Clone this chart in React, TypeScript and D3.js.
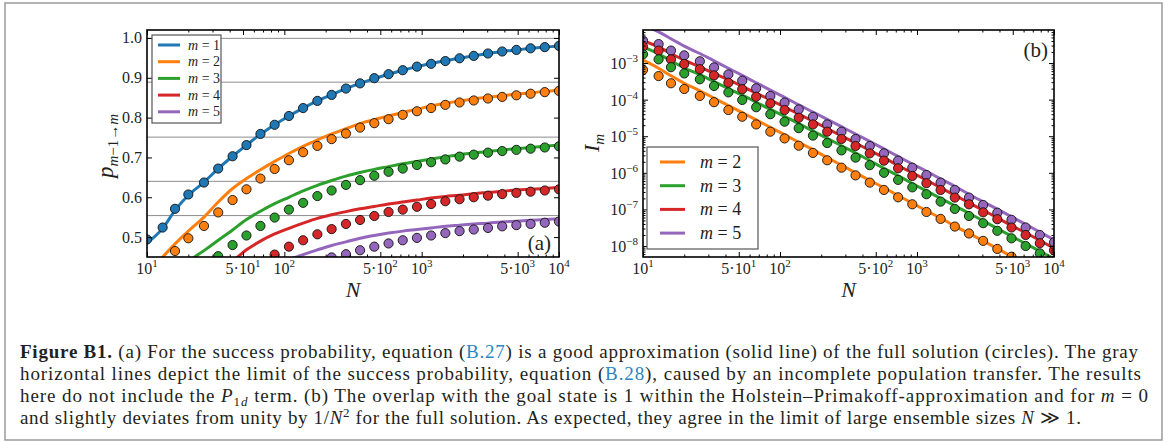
import React, { useEffect, useRef } from 'react'
import * as d3 from 'd3'

// ensemble sizes N (x positions, both panels)
const N = [10, 13, 16, 20, 26, 33, 42, 53, 67, 85, 108, 137, 174, 221, 281, 356, 452, 574, 728, 924, 1172, 1487, 1888, 2395, 3039, 3857, 4894, 6210, 7880, 10000]

// (a) success probability p_{m-1 -> m}: circles = full solution, lines = approximation
const p1Full = [0.494, 0.524, 0.571, 0.607, 0.637, 0.672, 0.703, 0.731, 0.759, 0.782, 0.804, 0.824, 0.842, 0.857, 0.873, 0.886, 0.899, 0.909, 0.919, 0.928, 0.935, 0.942, 0.949, 0.955, 0.961, 0.966, 0.970, 0.974, 0.977, 0.980]
const p2Full = [0.40, 0.433, 0.465, 0.497, 0.528, 0.562, 0.593, 0.620, 0.647, 0.671, 0.693, 0.713, 0.729, 0.746, 0.760, 0.775, 0.786, 0.796, 0.807, 0.816, 0.824, 0.832, 0.838, 0.843, 0.848, 0.852, 0.856, 0.860, 0.864, 0.867]
const p3Full = [0.31, 0.345, 0.375, 0.402, 0.427, 0.452, 0.480, 0.504, 0.528, 0.549, 0.569, 0.586, 0.603, 0.617, 0.631, 0.643, 0.654, 0.664, 0.672, 0.681, 0.688, 0.695, 0.702, 0.707, 0.712, 0.716, 0.719, 0.722, 0.725, 0.728]
const p4Full = [0.28, 0.30, 0.32, 0.34, 0.36, 0.38, 0.40, 0.418, 0.437, 0.456, 0.476, 0.492, 0.507, 0.520, 0.533, 0.543, 0.553, 0.563, 0.569, 0.576, 0.583, 0.590, 0.595, 0.600, 0.604, 0.608, 0.611, 0.614, 0.617, 0.620]
const p5Full = [0.22, 0.24, 0.26, 0.28, 0.30, 0.32, 0.34, 0.36, 0.378, 0.395, 0.41, 0.424, 0.437, 0.449, 0.457, 0.467, 0.476, 0.484, 0.492, 0.498, 0.504, 0.510, 0.515, 0.519, 0.523, 0.527, 0.530, 0.533, 0.536, 0.539]

const p1Approx = [0.485, 0.522, 0.567, 0.605, 0.638, 0.672, 0.703, 0.731, 0.758, 0.782, 0.804, 0.824, 0.842, 0.858, 0.873, 0.886, 0.898, 0.909, 0.919, 0.928, 0.936, 0.943, 0.949, 0.955, 0.961, 0.966, 0.970, 0.974, 0.977, 0.980]
const p2Approx = [0.41, 0.45, 0.483, 0.515, 0.550, 0.588, 0.622, 0.647, 0.669, 0.690, 0.710, 0.728, 0.744, 0.759, 0.772, 0.785, 0.795, 0.804, 0.813, 0.821, 0.829, 0.836, 0.842, 0.847, 0.851, 0.855, 0.859, 0.862, 0.866, 0.869]
const p3Approx = [0.33, 0.37, 0.405, 0.438, 0.466, 0.492, 0.518, 0.544, 0.565, 0.584, 0.600, 0.616, 0.630, 0.642, 0.653, 0.662, 0.670, 0.677, 0.684, 0.690, 0.696, 0.702, 0.707, 0.711, 0.715, 0.719, 0.722, 0.725, 0.728, 0.731]
const p4Approx = [0.28, 0.31, 0.34, 0.37, 0.395, 0.42, 0.44, 0.468, 0.490, 0.508, 0.522, 0.535, 0.547, 0.556, 0.564, 0.571, 0.577, 0.583, 0.588, 0.593, 0.598, 0.602, 0.605, 0.609, 0.612, 0.615, 0.618, 0.620, 0.622, 0.625]
const p5Approx = [0.22, 0.25, 0.28, 0.31, 0.33, 0.355, 0.375, 0.395, 0.413, 0.429, 0.443, 0.456, 0.468, 0.479, 0.488, 0.497, 0.504, 0.510, 0.515, 0.519, 0.523, 0.527, 0.530, 0.533, 0.535, 0.538, 0.540, 0.542, 0.544, 0.546]

// gray limit lines in (a)
const limits = [0.999, 0.889, 0.751, 0.64, 0.554]

// (b) overlap I_m
const I2Full = [6.5e-4, 4.4e-4, 2.8e-4, 1.95e-4, 1.26e-4, 8.5e-5, 5.2e-5, 3.4e-5, 2.1e-5, 1.33e-5, 8.7e-6, 5.5e-6, 3.5e-6, 2.2e-6, 1.38e-6, 8.5e-7, 5.4e-7, 3.4e-7, 2.14e-7, 1.38e-7, 8.5e-8, 5.5e-8, 3.4e-8, 2.2e-8, 1.38e-8, 8.3e-9, 5.1e-9, 3.2e-9, 1.95e-9, 1.2e-9]
const I3Full = [1.74e-3, 1.26e-3, 7.7e-4, 5.2e-4, 3.6e-4, 2.36e-4, 1.58e-4, 9.8e-5, 6.2e-5, 4.0e-5, 2.5e-5, 1.66e-5, 1.04e-5, 6.5e-6, 4.1e-6, 2.6e-6, 1.62e-6, 1.0e-6, 6.4e-7, 4.0e-7, 2.6e-7, 1.63e-7, 1.03e-7, 6.6e-8, 4.2e-8, 2.6e-8, 1.62e-8, 1.0e-8, 6.3e-9, 3.9e-9]
const I4Full = [2.8e-3, 2.19e-3, 1.26e-3, 9.4e-4, 6.8e-4, 4.6e-4, 2.9e-4, 1.92e-4, 1.2e-4, 7.9e-5, 5.2e-5, 3.2e-5, 2.1e-5, 1.33e-5, 8.4e-6, 5.4e-6, 3.4e-6, 2.15e-6, 1.33e-6, 8.2e-7, 5.2e-7, 3.4e-7, 2.1e-7, 1.38e-7, 8.3e-8, 5.4e-8, 3.2e-8, 2.0e-8, 1.19e-8, 7.6e-9]
const I5Full = [4.1e-3, 3.3e-3, 2.19e-3, 1.62e-3, 1.12e-3, 7.6e-4, 4.9e-4, 3.3e-4, 2.04e-4, 1.26e-4, 8.3e-5, 5.4e-5, 3.4e-5, 2.1e-5, 1.33e-5, 8.4e-6, 5.4e-6, 3.4e-6, 2.15e-6, 1.38e-6, 8.7e-7, 5.4e-7, 3.4e-7, 2.1e-7, 1.32e-7, 8.1e-8, 5.2e-8, 3.2e-8, 2.0e-8, 1.26e-8]

const I2Approx = [1.2e-3, 7.2e-4, 4.5e-4, 2.8e-4, 1.74e-4, 1.1e-4, 6.9e-5, 4.4e-5, 2.8e-5, 1.74e-5, 1.1e-5, 6.8e-6, 4.3e-6, 2.6e-6, 1.62e-6, 1.0e-6, 6.2e-7, 3.9e-7, 2.4e-7, 1.48e-7, 9.1e-8, 5.8e-8, 3.5e-8, 2.2e-8, 1.38e-8, 8.5e-9, 5.2e-9, 3.2e-9, 2.0e-9, 1.26e-9]
const I3Approx = [2.75e-3, 1.78e-3, 1.15e-3, 7.4e-4, 4.8e-4, 3.1e-4, 2.0e-4, 1.32e-4, 8.5e-5, 5.4e-5, 3.5e-5, 2.2e-5, 1.38e-5, 8.7e-6, 5.5e-6, 3.5e-6, 2.14e-6, 1.32e-6, 8.3e-7, 5.1e-7, 3.2e-7, 2.0e-7, 1.26e-7, 7.8e-8, 4.9e-8, 3.0e-8, 1.86e-8, 1.15e-8, 7.2e-9, 4.5e-9]
const I4Approx = [4.1e-3, 2.75e-3, 1.82e-3, 1.2e-3, 7.9e-4, 5.2e-4, 3.5e-4, 2.3e-4, 1.51e-4, 9.8e-5, 6.3e-5, 4.0e-5, 2.6e-5, 1.62e-5, 1.02e-5, 6.5e-6, 4.1e-6, 2.6e-6, 1.58e-6, 1.0e-6, 6.3e-7, 3.9e-7, 2.45e-7, 1.51e-7, 9.5e-8, 5.9e-8, 3.6e-8, 2.3e-8, 1.41e-8, 8.7e-9]
const I5Approx = [1.1e-2, 7.1e-3, 4.6e-3, 2.9e-3, 1.82e-3, 1.15e-3, 7.2e-4, 4.6e-4, 2.9e-4, 1.82e-4, 1.15e-4, 7.2e-5, 4.6e-5, 2.9e-5, 1.82e-5, 1.15e-5, 7.2e-6, 4.5e-6, 2.8e-6, 1.74e-6, 1.1e-6, 6.8e-7, 4.3e-7, 2.6e-7, 1.62e-7, 1.02e-7, 6.3e-8, 3.9e-8, 2.4e-8, 1.48e-8]

const colors = ['#1f77b4', '#ff7f0e', '#2ca02c', '#d62728', '#9467bd']
const mLabelsA = ['1', '2', '3', '4', '5']
const mLabelsB = ['2', '3', '4', '5']

const xTicks = [10, 50, 100, 500, 1000, 5000, 10000]
const xTickPre = ['', '5·', '', '5·', '', '5·', '']
const xTickExp = ['1', '1', '2', '2', '3', '3', '4']
const xMinor = [20, 30, 40, 60, 70, 80, 90, 200, 300, 400, 600, 700, 800, 900, 2000, 3000, 4000, 6000, 7000, 8000, 9000]
const pTicks = [0.5, 0.6, 0.7, 0.8, 0.9, 1.0]
const iTicks = [1e-8, 1e-7, 1e-6, 1e-5, 1e-4, 1e-3]
const iTickExp = ['−8', '−7', '−6', '−5', '−4', '−3']

const serif = '"Liberation Serif", "DejaVu Serif", serif'
const ink = '#231f20'

const A = { x0: 147, x1: 559, y0: 30, y1: 257 }
const B = { x0: 643, x1: 1054, y0: 30, y1: 257 }

const xA = d3.scaleLog().domain([10, 1e4]).range([A.x0, A.x1])
const yA = d3.scaleLinear().domain([0.45, 1.02]).range([A.y1, A.y0])
const xB = d3.scaleLog().domain([10, 1e4]).range([B.x0, B.x1])
const yB = d3.scaleLog().domain([5e-9, 8e-3]).range([B.y1, B.y0])

const iMinor: number[] = []
for (let d = -9; d <= -3; d++) for (let k = 2; k <= 9; k++) {
  const v = k * Math.pow(10, d)
  if (v > 5e-9 && v < 8e-3) iMinor.push(v)
}

const App = () => {
  const axRef = useRef<SVGGElement>(null)

  useEffect(() => {
    const g = d3.select(axRef.current)
    g.selectAll('*').remove()
    const panels = [
      { x: xA, y: yA, b: A, yMaj: pTicks, yMin: [] as number[] },
      { x: xB, y: yB, b: B, yMaj: iTicks, yMin: iMinor },
    ]
    panels.forEach(({ x, y, b, yMaj, yMin }) => {
      const blank = () => ''
      const add = (axis: any, tr: string) => g.append('g').attr('transform', tr).call(axis)
      add(d3.axisBottom(x).tickValues(xTicks).tickSizeInner(-5).tickSizeOuter(0).tickFormat(blank), `translate(0,${b.y1})`)
      add(d3.axisBottom(x).tickValues(xMinor).tickSizeInner(-2.5).tickSizeOuter(0).tickFormat(blank), `translate(0,${b.y1})`)
      add(d3.axisTop(x).tickValues(xTicks).tickSizeInner(-5).tickSizeOuter(0).tickFormat(blank), `translate(0,${b.y0})`)
      add(d3.axisTop(x).tickValues(xMinor).tickSizeInner(-2.5).tickSizeOuter(0).tickFormat(blank), `translate(0,${b.y0})`)
      add(d3.axisLeft(y).tickValues(yMaj).tickSizeInner(-5).tickSizeOuter(0).tickFormat(blank), `translate(${b.x0},0)`)
      add(d3.axisRight(y).tickValues(yMaj).tickSizeInner(-5).tickSizeOuter(0).tickFormat(blank), `translate(${b.x1},0)`)
      if (yMin.length) {
        add(d3.axisLeft(y).tickValues(yMin).tickSizeInner(-2.5).tickSizeOuter(0).tickFormat(blank), `translate(${b.x0},0)`)
        add(d3.axisRight(y).tickValues(yMin).tickSizeInner(-2.5).tickSizeOuter(0).tickFormat(blank), `translate(${b.x1},0)`)
      }
    })
    g.selectAll('.domain').remove()
    g.selectAll('.tick line').attr('stroke', '#000').attr('stroke-width', 1)
  }, [])

  const fullA = [p1Full, p2Full, p3Full, p4Full, p5Full]
  const approxA = [p1Approx, p2Approx, p3Approx, p4Approx, p5Approx]
  const fullB = [I2Full, I3Full, I4Full, I5Full]
  const approxB = [I2Approx, I3Approx, I4Approx, I5Approx]

  const lineA = d3.line<number>().x((_, i) => xA(N[i])).y(d => yA(d)).curve(d3.curveMonotoneX)
  const lineB = d3.line<number>().x((_, i) => xB(N[i])).y(d => yB(d)).curve(d3.curveMonotoneX)

  const xLabels = (x: any, b: any) =>
    xTicks.map((t, i) => (
      <text key={t} x={x(t)} y={b.y1 + 17} textAnchor="middle" fontSize={16}>
        {xTickPre[i]}10<tspan dy={-7} fontSize={11}>{xTickExp[i]}</tspan>
      </text>
    ))

  return (
    <svg width={1168} height={443} style={{ position: 'absolute', left: 0, top: 0, background: '#fff' }} fontFamily={serif} fill={ink}>
      <defs>
        <clipPath id="clipA"><rect x={A.x0} y={A.y0} width={A.x1 - A.x0} height={A.y1 - A.y0} /></clipPath>
        <clipPath id="clipB"><rect x={B.x0} y={B.y0} width={B.x1 - B.x0} height={B.y1 - B.y0} /></clipPath>
      </defs>
      <rect x={5} y={3} width={1157} height={437} fill="none" stroke="#9a9a9a" strokeWidth={1.5} />

      {/* panel (a) */}
      <g clipPath="url(#clipA)">
        {limits.map(v => (
          <line key={v} x1={A.x0} x2={A.x1} y1={yA(v)} y2={yA(v)} stroke="#8c8c8c" strokeWidth={1} />
        ))}
        {approxA.map((s, j) => (
          <path key={j} d={lineA(s) || ''} fill="none" stroke={colors[j]} strokeWidth={3} />
        ))}
        {fullA.map((s, j) =>
          s.map((v, i) => (
            <circle key={j + '-' + i} cx={xA(N[i])} cy={yA(v)} r={4.6} fill={colors[j]} stroke="#111" strokeWidth={0.9} />
          ))
        )}
      </g>

      {/* panel (b) */}
      <g clipPath="url(#clipB)">
        {approxB.map((s, j) => (
          <path key={j} d={lineB(s) || ''} fill="none" stroke={colors[j + 1]} strokeWidth={3} />
        ))}
        {fullB.map((s, j) => j).reverse().map(j =>
          fullB[j].map((v, i) => (
            <circle key={j + '-' + i} cx={xB(N[i])} cy={yB(v)} r={4.6} fill={colors[j + 1]} stroke="#111" strokeWidth={0.9} />
          ))
        )}
      </g>

      <g ref={axRef} />
      <rect x={A.x0} y={A.y0} width={A.x1 - A.x0} height={A.y1 - A.y0} fill="none" stroke="#000" strokeWidth={1.6} />
      <rect x={B.x0} y={B.y0} width={B.x1 - B.x0} height={B.y1 - B.y0} fill="none" stroke="#000" strokeWidth={1.6} />

      {/* tick labels */}
      {xLabels(xA, A)}
      {xLabels(xB, B)}
      {pTicks.map(t => (
        <text key={t} x={A.x0 - 5} y={yA(t) + 5.5} textAnchor="end" fontSize={16}>{t.toFixed(1)}</text>
      ))}
      {iTicks.map((t, i) => (
        <text key={t} x={B.x0 - 5} y={yB(t) + 6} textAnchor="end" fontSize={16}>
          10<tspan dy={-7} fontSize={11}>{iTickExp[i]}</tspan>
        </text>
      ))}

      {/* axis titles */}
      <text x={(A.x0 + A.x1) / 2} y={297} textAnchor="middle" fontSize={22} fontStyle="italic">N</text>
      <text x={(B.x0 + B.x1) / 2} y={297} textAnchor="middle" fontSize={22} fontStyle="italic">N</text>
      <text transform="translate(113,146) rotate(-90)" textAnchor="middle" fontSize={23}>
        <tspan fontStyle="italic">p</tspan>
        <tspan fontSize={15} dy={5}><tspan fontStyle="italic">m</tspan>−1→<tspan fontStyle="italic">m</tspan></tspan>
      </text>
      <text transform="translate(599,143) rotate(-90)" textAnchor="middle" fontSize={22}>
        <tspan fontStyle="italic">I</tspan>
        <tspan fontSize={15} dy={5} fontStyle="italic">m</tspan>
      </text>

      {/* panel letters */}
      <text x={551} y={250} textAnchor="end" fontSize={21}>(a)</text>
      <text x={1048} y={57} textAnchor="end" fontSize={21}>(b)</text>

      {/* legends */}
      <g>
        <rect x={152} y={35} width={69} height={88} fill="#fff" stroke="#555" strokeWidth={1.2} />
        {mLabelsA.map((m, i) => (
          <g key={m}>
            <line x1={158} x2={180} y1={45 + i * 16.7} y2={45 + i * 16.7} stroke={colors[i]} strokeWidth={3} />
            <text x={188} y={45 + i * 16.7 + 4.5} fontSize={14}>
              <tspan fontStyle="italic">m</tspan> = {m}
            </text>
          </g>
        ))}
      </g>
      <g>
        <rect x={647} y={147} width={111} height={102} fill="#fff" stroke="#555" strokeWidth={1.2} />
        {mLabelsB.map((m, i) => (
          <g key={m}>
            <line x1={660} x2={685} y1={162 + i * 23.7} y2={162 + i * 23.7} stroke={colors[i + 1]} strokeWidth={3} />
            <text x={700} y={162 + i * 23.7 + 6} fontSize={18}>
              <tspan fontStyle="italic">m</tspan> = {m}
            </text>
          </g>
        ))}
      </g>

      {/* caption */}
      <g fontSize={19} fill={ink}>
        <text x={20} y={358} textLength={1118} lengthAdjust="spacing">
          <tspan fontWeight="bold">Figure B1.</tspan> (a) For the success probability, equation (<tspan fill="#2a86c3">B.27</tspan>) is a good approximation (solid line) of the full solution (circles). The gray
        </text>
        <text x={20} y={380} textLength={1121} lengthAdjust="spacing">
          horizontal lines depict the limit of the success probability, equation (<tspan fill="#2a86c3">B.28</tspan>), caused by an incomplete population transfer. The results
        </text>
        <text x={20} y={402} textLength={1128} lengthAdjust="spacing">
          here do not include the <tspan fontStyle="italic">P</tspan><tspan fontSize={13} dy={4}>1</tspan><tspan fontSize={13} fontStyle="italic">d</tspan><tspan dy={-4}> term. (b) The overlap with the goal state is 1 within the Holstein–Primakoff-approximation and for </tspan><tspan fontStyle="italic">m</tspan> = 0
        </text>
        <text x={20} y={424} textLength={1061} lengthAdjust="spacing">
          and slightly deviates from unity by 1/<tspan fontStyle="italic">N</tspan><tspan fontSize={13} dy={-7}>2</tspan><tspan dy={7}> for the full solution. As expected, they agree in the limit of large ensemble sizes </tspan><tspan fontStyle="italic">N</tspan> ≫ 1.
        </text>
      </g>
    </svg>
  )
}

export default App
